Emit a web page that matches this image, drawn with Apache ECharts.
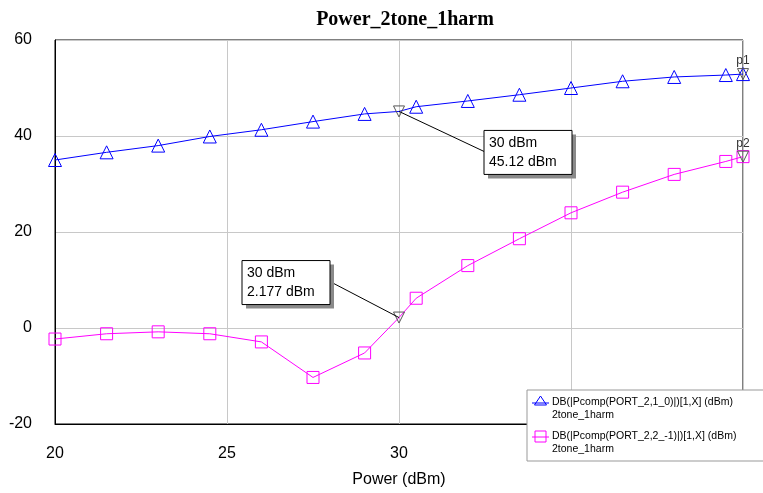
<!DOCTYPE html>
<html><head><meta charset="utf-8">
<script src="https://cdn.jsdelivr.net/npm/echarts@6/dist/echarts.min.js"></script>
<style>html,body{margin:0;padding:0;background:#fff}#c{width:763px;height:493px}</style>
</head><body><div id="c"></div>
<script>
const powerIn = [20, 21.5, 23, 24.5, 26, 27.5, 29, 30, 30.5, 32, 33.5, 35, 36.5, 38, 39.5, 40];
const fundamental = [35.0, 36.6, 38.0, 39.9, 41.3, 43.0, 44.6, 45.12, 46.1, 47.3, 48.6, 50.0, 51.4, 52.3, 52.7, 52.9];
const imd3 = [-2.3, -1.2, -0.8, -1.2, -2.9, -10.3, -5.2, 2.177, 6.2, 13.0, 18.6, 24.0, 28.3, 32.0, 34.7, 35.7];
const noMarkerAt = [30];
const xTicks = [20, 25, 30, 35, 40];
const yTicks = [-20, 0, 20, 40, 60];
const seriesNames = ['DB(|Pcomp(PORT_2,1_0)|)[1,X] (dBm)', 'DB(|Pcomp(PORT_2,2_-1)|)[1,X] (dBm)'];
const seriesSub = ['2tone_1harm', '2tone_1harm'];
const markerX = 30;
const endX = 40;

function mk(vals, sym) {
  return powerIn.map((x, i) => noMarkerAt.includes(x) ? {value: [x, vals[i]], symbol: 'none'} : {value: [x, vals[i]], symbol: sym});
}
const chart = echarts.init(document.getElementById('c'));
const font = 'Arial, "Liberation Sans", sans-serif';
chart.setOption({
  animation: false,
  title: {text: 'Power_2tone_1harm', left: 400, top: 5, textAlign: 'center',
    textStyle: {fontFamily: '"Liberation Serif", "Times New Roman", serif', fontWeight: 'bold', fontSize: 20, color: '#000'}},
  grid: {left: 55, right: 20, top: 40, bottom: 66, show: true, borderColor: '#000', borderWidth: 1},
  xAxis: {type: 'value', min: xTicks[0], max: xTicks[xTicks.length-1], interval: 5,
    name: 'Power (dBm)', nameLocation: 'middle', nameGap: 48,
    nameTextStyle: {fontFamily: font, fontSize: 16, color: '#000'},
    axisLine: {onZero: false, lineStyle: {color: '#000'}}, axisTick: {show: false},
    axisLabel: {fontFamily: font, fontSize: 16, color: '#000', margin: 22},
    splitLine: {lineStyle: {color: '#c8c8c8'}}},
  yAxis: {type: 'value', min: yTicks[0], max: yTicks[yTicks.length-1], interval: 20,
    axisLine: {show: true, onZero: false, lineStyle: {color: '#000'}}, axisTick: {show: false},
    axisLabel: {fontFamily: font, fontSize: 16, color: '#000', margin: 23},
    splitLine: {lineStyle: {color: '#c8c8c8'}}},
  series: [
    {name: seriesNames[0], type: 'line', data: mk(fundamental, 'triangle'), symbolSize: 13,
      lineStyle: {color: '#0000ff', width: 1}, itemStyle: {color: 'rgba(0,0,0,0)', borderColor: '#0000ff', borderWidth: 1},
      markPoint: {symbol: 'triangle', symbolRotate: 180, symbolSize: 11,
        itemStyle: {color: 'rgba(0,0,0,0)', borderColor: '#555', borderWidth: 1},
        data: [{coord: [markerX, fundamental[powerIn.indexOf(markerX)]], label: {show: false}},
               {coord: [endX, fundamental[powerIn.indexOf(endX)]], label: {show: true, formatter: 'p1', position: 'top', distance: 1, fontFamily: font, fontSize: 12, color: '#333'}}]}},
    {name: seriesNames[1], type: 'line', data: mk(imd3, 'rect'), symbolSize: 12,
      lineStyle: {color: '#ff00ff', width: 1}, itemStyle: {color: 'rgba(0,0,0,0)', borderColor: '#ff00ff', borderWidth: 1},
      markPoint: {symbol: 'triangle', symbolRotate: 180, symbolSize: 11,
        itemStyle: {color: 'rgba(0,0,0,0)', borderColor: '#555', borderWidth: 1},
        data: [{coord: [markerX, imd3[powerIn.indexOf(markerX)]], label: {show: false}},
               {coord: [endX, imd3[powerIn.indexOf(endX)]], label: {show: true, formatter: 'p2', position: 'top', distance: 1, fontFamily: font, fontSize: 12, color: '#333'}}]}}
  ]
});

const a1 = chart.convertToPixel({gridIndex: 0}, [markerX, fundamental[powerIn.indexOf(markerX)]]);
const a2 = chart.convertToPixel({gridIndex: 0}, [markerX, imd3[powerIn.indexOf(markerX)]]);
function box(x, y, lines) {
  return [
    {type: 'rect', shape: {x: x + 4, y: y + 4, width: 88, height: 44}, style: {fill: '#8a8a8a'}, z: 20},
    {type: 'rect', shape: {x: x, y: y, width: 88, height: 44}, style: {fill: '#fff', stroke: '#000', lineWidth: 1}, z: 21},
    {type: 'text', x: x + 5, y: y + 3, style: {text: lines.join('\n'), font: '14px Arial, "Liberation Sans", sans-serif', fill: '#000', lineHeight: 19}, z: 22}
  ];
}
const b1x = a1[0] + 85, b1y = a1[1] + 19;
const b2x = a2[0] - 157, b2y = a2[1] - 57;
const g = [
  {type: 'line', shape: {x1: a1[0], y1: a1[1], x2: b1x, y2: b1y + 21}, style: {stroke: '#000', lineWidth: 1}, z: 19},
  {type: 'line', shape: {x1: a2[0], y1: a2[1], x2: b2x + 88, y2: b2y + 21}, style: {stroke: '#000', lineWidth: 1}, z: 19},
  ...box(b1x, b1y, [markerX + ' dBm', fundamental[powerIn.indexOf(markerX)].toFixed(2) + ' dBm']),
  ...box(b2x, b2y, [markerX + ' dBm', imd3[powerIn.indexOf(markerX)].toFixed(3) + ' dBm'])
];
// legend
const lx = 527, ly = 390;
g.push({type: 'rect', shape: {x: lx, y: ly, width: 250, height: 71}, style: {fill: '#fff', stroke: '#999', lineWidth: 1}, z: 30});
const cols = ['#0000ff', '#ff00ff'];
for (let i = 0; i < 2; i++) {
  const cy = ly + 12 + i * 34;
  g.push({type: 'line', shape: {x1: lx + 5, y1: cy + 1, x2: lx + 22, y2: cy + 1}, style: {stroke: cols[i], lineWidth: 1}, z: 31});
  if (i === 0) {
    g.push({type: 'polygon', shape: {points: [[lx + 13.5, cy - 6], [lx + 7.5, cy + 3], [lx + 19.5, cy + 3]]}, style: {fill: 'none', stroke: cols[i], lineWidth: 1}, z: 31});
  } else {
    g.push({type: 'rect', shape: {x: lx + 8, y: cy - 5, width: 11, height: 11}, style: {fill: 'none', stroke: cols[i], lineWidth: 1}, z: 31});
  }
  g.push({type: 'text', x: lx + 25, y: cy - 6, style: {text: seriesNames[i] + '\n' + seriesSub[i], font: '10.5px Arial, "Liberation Sans", sans-serif', fill: '#000', lineHeight: 13}, z: 31});
}
chart.setOption({graphic: g});
</script></body></html>
